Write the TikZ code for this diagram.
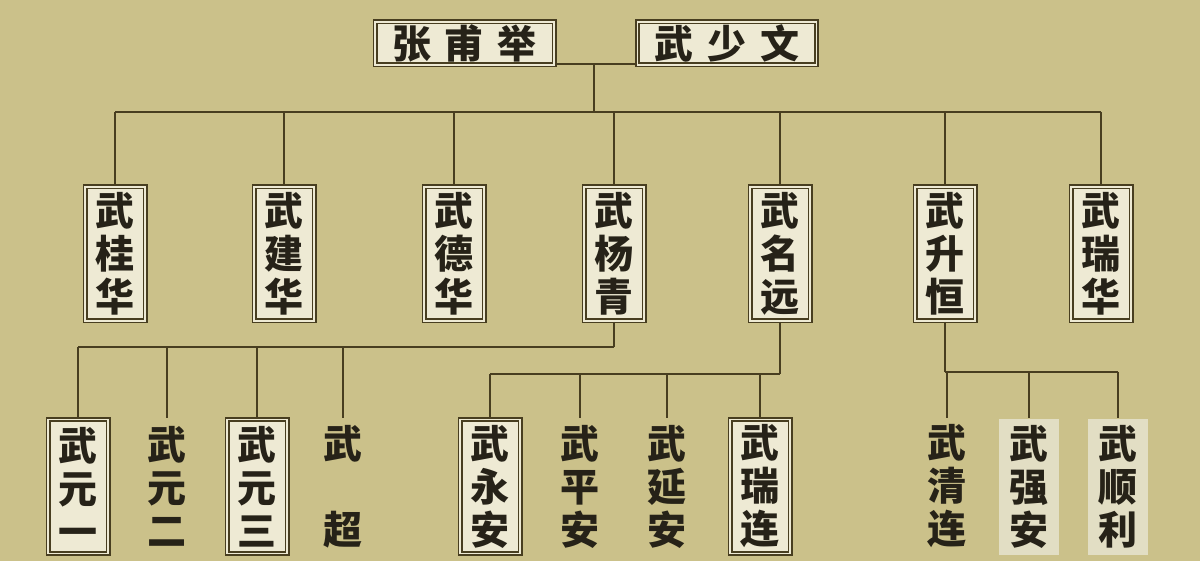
\documentclass[tikz,border=0pt]{standalone}
\usepackage{fontspec}
\newfontfamily\cjk{Noto Sans CJK SC}
\definecolor{paper}{RGB}{203,193,138}
\definecolor{ink}{RGB}{72,62,32}
\definecolor{txt}{RGB}{38,34,24}
\definecolor{boxfill}{RGB}{238,234,212}
\definecolor{softfill}{RGB}{226,222,196}
\begin{document}
\begin{tikzpicture}[x=1pt,y=-1pt,
  namefont/.style={font=\cjk\bfseries\fontsize{39}{43}\selectfont, text=txt, align=center, inner sep=0pt},
  vbox/.style={namefont, draw=ink, line width=1.6pt, double=boxfill, double distance=1.8pt, fill=boxfill, minimum width=60pt, minimum height=134pt},
  vplain/.style={namefont, minimum width=62pt, minimum height=136pt},
  vsoft/.style={namefont, fill=softfill, minimum width=60pt, minimum height=136pt},
  hbox/.style={namefont, draw=ink, line width=1.6pt, double=boxfill, double distance=1.8pt, fill=boxfill, minimum width=179pt, minimum height=43pt},
  link/.style={draw=ink, line width=2.8pt}]
\fill[paper] (0,0) rectangle (1200,561);
\useasboundingbox (0,0) rectangle (1200,561);
% top
\node[hbox] (zhang) at (464.5,43.5) {张\hspace{14pt}甫\hspace{14pt}举};
\node[hbox] (wsw) at (727,43.5) {武\hspace{14pt}少\hspace{14pt}文};
\coordinate (topline) at (0,64);
\coordinate (bar0) at (0,112);
\coordinate (bar1) at (0,347);
\coordinate (bar2) at (0,374);
\coordinate (bar3) at (0,372);
\coordinate (jn) at (594,64);
% row 2
\node[vbox] (g1) at (115,254) {武\\桂\\华};
\node[vbox] (g2) at (284,254) {武\\建\\华};
\node[vbox] (g3) at (454,254) {武\\德\\华};
\node[vbox] (g4) at (614,254) {武\\杨\\青};
\node[vbox] (g5) at (780,254) {武\\名\\远};
\node[vbox] (g6) at (945,254) {武\\升\\恒};
\node[vbox] (g7) at (1101,254) {武\\瑞\\华};
% row 3
\node[vbox] (c1) at (78,486.5) {武\\元\\一};
\node[vplain] (c2) at (167,486.5) {武\\元\\二};
\node[vbox] (c3) at (257,486.5) {武\\元\\三};
\node[vplain] (c4) at (343,486.5) {武\\\phantom{武}\\超};
\node[vbox] (c5) at (490,486.5) {武\\永\\安};
\node[vplain] (c6) at (580,486.5) {武\\平\\安};
\node[vplain] (c7) at (667,486.5) {武\\延\\安};
\node[vbox] (c8) at (760,486.5) {武\\瑞\\连};
\node[vplain] (c9) at (947,486.5) {武\\清\\连};
\node[vsoft] (c10) at (1029,486.5) {武\\强\\安};
\node[vsoft] (c11) at (1118,486.5) {武\\顺\\利};
% connectors
\draw[link] (zhang.east |- topline) -- (wsw.west |- topline);
\draw[link] (jn) -- (jn |- bar0);
\draw[link] (g1.north |- bar0) -- (g7.north |- bar0);
\foreach \n in {g1,g2,g3,g4,g5,g6,g7} \draw[link] (\n.north |- bar0) -- (\n.north);
\draw[link] (g4.south) -- (g4.south |- bar1);
\draw[link] (c1.north |- bar1) -- (g4.south |- bar1);
\foreach \n in {c1,c2,c3,c4} \draw[link] (\n.north |- bar1) -- (\n.north);
\draw[link] (g5.south) -- (g5.south |- bar2);
\draw[link] (c5.north |- bar2) -- (g5.south |- bar2);
\foreach \n in {c5,c6,c7,c8} \draw[link] (\n.north |- bar2) -- (\n.north);
\draw[link] (g6.south) -- (g6.south |- bar3);
\draw[link] (g6.south |- bar3) -- (c11.north |- bar3);
\foreach \n in {c9,c10,c11} \draw[link] (\n.north |- bar3) -- (\n.north);
\end{tikzpicture}
\end{document}
